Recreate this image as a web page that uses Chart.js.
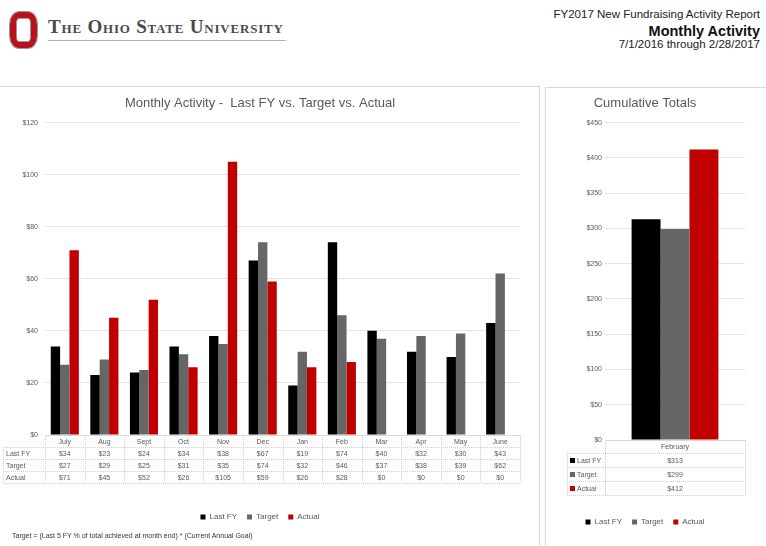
<!DOCTYPE html>
<html><head><meta charset="utf-8">
<script src="https://cdn.jsdelivr.net/npm/chart.js@4/dist/chart.umd.min.js"></script>
<style>
body{margin:0;width:766px;height:546px;background:#fff;position:relative;overflow:hidden;font-family:"Liberation Sans",Arial,sans-serif;}
.abs{position:absolute;}
#logo{left:10px;top:12px;width:15px;height:24px;border:6px solid #b5121b;border-radius:9px/12px;box-shadow:0 0 0 1px #9a9a9a, inset 0 0 0 1px #9a9a9a;}
#osu{left:48px;top:16px;font-family:"Liberation Serif","DejaVu Serif",serif;font-variant:small-caps;font-size:19px;letter-spacing:0.8px;color:#4a4a4a;font-weight:bold;white-space:nowrap;}
#osuline{left:48px;top:40px;width:238px;height:1px;background:#b0b0b0;}
#h1{right:6px;top:8px;font-size:11.5px;color:#222;white-space:nowrap;}
#h2{right:6px;top:23px;font-size:14.5px;font-weight:bold;color:#111;white-space:nowrap;}
#h3{right:6px;top:38px;font-size:11.5px;color:#222;white-space:nowrap;}
#pl{left:-1px;top:86px;width:541px;height:470px;border:1px solid #d9d9d9;box-sizing:border-box;}
#pr{left:545px;top:87px;width:230px;height:470px;border:1px solid #d9d9d9;box-sizing:border-box;}
#c1{left:0;top:86px;}
#c2{left:545px;top:86px;}
#foot{left:12px;top:532px;font-size:7px;color:#333;white-space:nowrap;}
</style></head><body>
<div id="logo" class="abs"></div>
<div id="osu" class="abs">The Ohio State University</div>
<div id="osuline" class="abs"></div>
<div id="h1" class="abs">FY2017 New Fundraising Activity Report</div>
<div id="h2" class="abs">Monthly Activity</div>
<div id="h3" class="abs">7/1/2016 through 2/28/2017</div>
<div id="pl" class="abs"></div>
<div id="pr" class="abs"></div>
<canvas id="c1" class="abs" width="540" height="460" style="width:540px;height:460px"></canvas>
<canvas id="c2" class="abs" width="221" height="460" style="width:221px;height:460px"></canvas>
<div id="foot" class="abs">Target = (Last 5 FY % of total achieved at month end) * (Current Annual Goal)</div>
<script>
// ---- data ----
const months = ['July','Aug','Sept','Oct','Nov','Dec','Jan','Feb','Mar','Apr','May','June'];
const seriesNames = ['Last FY','Target','Actual'];
const lastFY = [34,23,24,34,38,67,19,74,40,32,30,43];
const target = [27,29,25,31,35,74,32,46,37,38,39,62];
const actual = [71,45,52,26,105,59,26,28,0,0,0,0];
const cumCategory = ['February'];
const cumLastFY = [313];
const cumTarget = [299];
const cumActual = [412];
const monthlyMax = 120, monthlyStep = 20;
const cumMax = 450, cumStep = 50;

const colors = ['#000000','#666666','#c00000'];
const txt = '#595959';
const FONT = '"Liberation Sans", Arial, sans-serif';

const tablePlugin = {
  id: 'dataTable',
  afterDraw(chart, args, opts) {
    const {ctx, chartArea, scales: {x}} = chart;
    const rowH = opts.rowH, headH = opts.headH;
    const top = chartArea.bottom;
    const n = chart.data.labels.length;
    const colW = (x.right - x.left) / n;
    const nRows = chart.data.datasets.length;
    const bottom = top + headH + nRows * rowH;
    ctx.save();
    ctx.strokeStyle = '#cfcfcf';
    ctx.lineWidth = 1;
    ctx.setLineDash([1, 1]);
    const hl = (x0, x1, y) => { ctx.beginPath(); ctx.moveTo(x0, Math.round(y) + 0.5); ctx.lineTo(x1, Math.round(y) + 0.5); ctx.stroke(); };
    const vl = (xx, y0, y1) => { ctx.beginPath(); ctx.moveTo(Math.round(xx) + 0.5, y0); ctx.lineTo(Math.round(xx) + 0.5, y1); ctx.stroke(); };
    for (let r = 0; r <= nRows; r++) hl(opts.labelLeft, x.right, top + headH + r * rowH);
    vl(opts.labelLeft, top + headH, bottom);
    for (let i = 0; i <= n; i++) vl(x.left + i * colW, top, bottom);
    ctx.setLineDash([]);
    ctx.font = opts.fontSize + 'px ' + FONT;
    ctx.fillStyle = txt;
    ctx.textBaseline = 'middle';
    ctx.textAlign = 'center';
    chart.data.labels.forEach((l, i) => ctx.fillText(l, x.getPixelForValue(i), top + headH / 2 + 1));
    chart.data.datasets.forEach((ds, r) => {
      const yc = top + headH + r * rowH + rowH / 2 + 1;
      ctx.textAlign = 'left';
      let lx = opts.labelLeft + 3;
      if (opts.keys) {
        ctx.fillStyle = ds.backgroundColor;
        ctx.fillRect(lx, yc - 3, 5, 5);
        lx += 7;
      }
      ctx.fillStyle = txt;
      ctx.fillText(ds.label, lx, yc);
      ctx.textAlign = 'center';
      ds.data.forEach((v, i) => ctx.fillText('$' + v, x.getPixelForValue(i), yc));
    });
    ctx.restore();
  }
};

function makeChart(id, labels, data, cfg) {
  return new Chart(document.getElementById(id), {
    type: 'bar',
    data: {
      labels: labels,
      datasets: seriesNames.map((s, i) => ({
        label: s, data: data[i], backgroundColor: colors[i], borderWidth: 0,
        categoryPercentage: cfg.catPct, barPercentage: 1
      }))
    },
    options: {
      responsive: false, animation: false,
      layout: {padding: {left: 0, right: cfg.padRight, top: 0, bottom: cfg.padBottom}},
      scales: {
        x: {
          grid: {display: false},
          border: {display: true, color: '#d9d9d9'},
          ticks: {display: false},
          afterFit: s => { s.height = cfg.xH; }
        },
        y: {
          min: 0, max: cfg.max,
          ticks: {stepSize: cfg.step, padding: cfg.tickPad, color: txt, font: {size: 7, family: FONT},
                  callback: v => '$' + v},
          grid: {color: '#e3e3e3', drawTicks: false},
          border: {display: false},
          afterFit: s => { s.width = cfg.yW; }
        }
      },
      plugins: {
        title: {display: true, text: cfg.title, color: txt, font: {size: cfg.titleSize, weight: 'normal', family: FONT},
                padding: {top: 10, bottom: cfg.titlePadB}},
        legend: {position: 'bottom', labels: {boxWidth: 5, boxHeight: 5, padding: 10, color: txt, font: {size: 8, family: FONT}}},
        tooltip: {enabled: false},
        dataTable: cfg.table
      }
    },
    plugins: [tablePlugin]
  });
}

makeChart('c1', months, [lastFY, target, actual], {
  catPct: 0.71, padRight: 20, padBottom: 15, xH: 68, max: monthlyMax, step: monthlyStep,
  tickPad: 7, yW: 45, title: 'Monthly Activity -  Last FY vs. Target vs. Actual', titleSize: 13, titlePadB: 11,
  table: {rowH: 12, headH: 12, labelLeft: 3, fontSize: 7, keys: false}
});
makeChart('c2', cumCategory, [cumLastFY, cumTarget, cumActual], {
  catPct: 0.62, padRight: 21, padBottom: 10, xH: 68, max: cumMax, step: cumStep,
  tickPad: 3, yW: 60, title: 'Cumulative Totals', titleSize: 13, titlePadB: 11,
  table: {rowH: 14, headH: 13, labelLeft: 22, fontSize: 7, keys: true}
});
</script>
</body></html>
